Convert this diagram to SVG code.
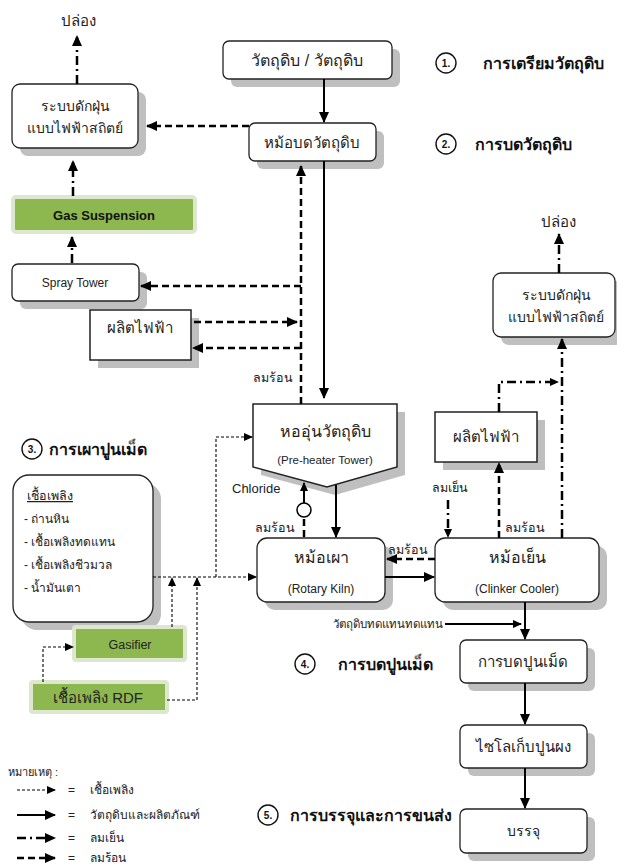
<svg xmlns="http://www.w3.org/2000/svg" width="617" height="866" viewBox="0 0 617 866">
<style>
text{font-family:"Liberation Sans","Noto Sans",sans-serif;fill:#222}
.th{font-size:14px;text-anchor:middle}
.en{font-size:12px;text-anchor:middle}
.hd{font-size:16px;font-weight:bold;fill:#111}
.num{font-size:10px;font-weight:bold;text-anchor:middle;fill:#111}
.lbl{font-size:12.5px}
.box{fill:#fff;stroke:#222;stroke-width:1.3}
.sq{fill:#fff;stroke:#222;stroke-width:1.5}
.sh{fill:#bfbfbf}
.grn{fill:#8db84f;stroke:#dde6cf;stroke-width:4}
.circ{fill:#fff;stroke:#111;stroke-width:1.4}
.solid{fill:none;stroke:#000;stroke-width:2}
.hot{fill:none;stroke:#000;stroke-width:2.5;stroke-dasharray:7 4}
.cold{fill:none;stroke:#000;stroke-width:2.5;stroke-dasharray:9 4 2 4}
.fuel{fill:none;stroke:#000;stroke-width:1.1;stroke-dasharray:3 2}
</style>
<defs>
<marker id="a" markerUnits="userSpaceOnUse" markerWidth="11" markerHeight="10" refX="10" refY="5" orient="auto"><path d="M0,0 L11,5 L0,10 z" fill="#000"/></marker>
<marker id="as" markerUnits="userSpaceOnUse" markerWidth="9" markerHeight="8" refX="8" refY="4" orient="auto"><path d="M0,0 L9,4 L0,8 z" fill="#000"/></marker>
</defs>

<!-- step labels -->
<g id="step1"><circle class="circ" cx="446" cy="63" r="10"/><text class="num" x="446" y="67">1.</text><text class="hd" x="483" y="69">การเตรียมวัตถุดิบ</text></g>
<g id="step2"><circle class="circ" cx="446" cy="144" r="10"/><text class="num" x="446" y="148">2.</text><text class="hd" x="475" y="150">การบดวัตถุดิบ</text></g>
<g id="step3"><circle class="circ" cx="32" cy="449" r="10"/><text class="num" x="32" y="453">3.</text><text class="hd" x="49" y="455">การเผาปูนเม็ด</text></g>
<g id="step4"><circle class="circ" cx="305" cy="664" r="10"/><text class="num" x="305" y="668">4.</text><text class="hd" x="338" y="670">การบดปูนเม็ด</text></g>
<g id="step5"><circle class="circ" cx="268" cy="815" r="10"/><text class="num" x="268" y="819">5.</text><text class="hd" x="290" y="821">การบรรจุและการขนส่ง</text></g>

<!-- nodes -->
<g id="raw"><rect class="sh" x="231" y="49" width="169" height="38" rx="6"/><rect class="box" x="223" y="41" width="169" height="38" rx="6"/><text class="th" x="307" y="66" style="font-size:16px">วัตถุดิบ / วัตถุดิบ</text></g>
<g id="mill"><rect class="sh" x="257" y="131" width="127" height="38" rx="6"/><rect class="box" x="249" y="123" width="127" height="38" rx="6"/><text class="th" x="312" y="148" style="font-size:15px">หม้อบดวัตถุดิบ</text></g>
<g id="esp1"><rect class="sh" x="20" y="92" width="126" height="64" rx="8"/><rect class="box" x="12" y="84" width="126" height="64" rx="8"/><text class="th" x="75" y="111">ระบบดักฝุ่น</text><text class="th" x="75" y="133">แบบไฟฟ้าสถิตย์</text></g>
<g id="gas"><rect class="grn" x="13" y="197" width="182" height="35" rx="3"/><text x="104" y="220" style="font-size:13px;font-weight:bold;text-anchor:middle;fill:#111">Gas Suspension</text></g>
<g id="spray"><rect class="sh" x="20" y="272" width="127" height="37" rx="6"/><rect class="box" x="12" y="264" width="127" height="37" rx="6"/><text class="en" x="75" y="287">Spray Tower</text></g>
<g id="power1"><rect class="sh" x="98" y="318" width="101" height="50"/><rect class="sq" x="90" y="310" width="101" height="50"/><text class="th" x="140" y="333" style="font-size:15px">ผลิตไฟฟ้า</text></g>
<g id="tower"><polygon class="sh" points="261,412 405,412 405,475 335,495 261,475"/><polygon class="sq" points="253,404 397,404 397,467 327,487 253,467"/><text class="th" x="325" y="437" style="font-size:16px">หออุ่นวัตถุดิบ</text><text class="en" x="325" y="464" style="font-size:11.5px">(Pre-heater Tower)</text></g>
<g id="esp2"><rect class="sh" x="501" y="281" width="122" height="64" rx="8"/><rect class="box" x="493" y="273" width="122" height="64" rx="8"/><text class="th" x="556" y="300">ระบบดักฝุ่น</text><text class="th" x="556" y="322">แบบไฟฟ้าสถิตย์</text></g>
<g id="power2"><rect class="sh" x="443" y="420" width="102" height="50"/><rect class="sq" x="435" y="412" width="102" height="50"/><text class="th" x="486" y="442" style="font-size:15px">ผลิตไฟฟ้า</text></g>
<g id="kiln"><rect class="sh" x="265" y="546" width="128" height="64" rx="10"/><rect class="box" x="257" y="538" width="128" height="64" rx="10"/><text class="th" x="321" y="563" style="font-size:16px">หม้อเผา</text><text class="en" x="321" y="593">(Rotary Kiln)</text></g>
<g id="cooler"><rect class="sh" x="443" y="546" width="164" height="64" rx="10"/><rect class="box" x="435" y="538" width="164" height="64" rx="10"/><text class="th" x="517" y="563" style="font-size:16px">หม้อเย็น</text><text class="en" x="517" y="593">(Clinker Cooler)</text></g>
<g id="fuel"><rect class="sh" x="21" y="483" width="140" height="147" rx="16"/><rect class="box" x="13" y="475" width="140" height="147" rx="16"/>
<text x="27" y="500" style="font-size:12.5px;text-decoration:underline">เชื้อเพลิง</text>
<text x="24" y="523" style="font-size:12px">- ถ่านหิน</text>
<text x="24" y="546" style="font-size:12px">- เชื้อเพลิงทดแทน</text>
<text x="24" y="569" style="font-size:12px">- เชื้อเพลิงชีวมวล</text>
<text x="24" y="592" style="font-size:12px">- น้ำมันเตา</text></g>
<g id="gasifier"><rect class="grn" x="74" y="627" width="111" height="33" rx="2"/><text class="en" x="130" y="649" style="font-size:12.5px">Gasifier</text></g>
<g id="rdf"><rect class="grn" x="31" y="682" width="136" height="30" rx="2"/><text class="th" x="98" y="703" style="font-size:15px">เชื้อเพลิง RDF</text></g>
<g id="grind"><rect class="sh" x="468" y="648" width="127" height="43" rx="6"/><rect class="box" x="460" y="640" width="127" height="43" rx="6"/><text class="th" x="523" y="667" style="font-size:15px">การบดปูนเม็ด</text></g>
<g id="silo"><rect class="sh" x="468" y="733" width="127" height="43" rx="6"/><rect class="box" x="460" y="725" width="127" height="43" rx="6"/><text class="th" x="523" y="752" style="font-size:15px">ไซโลเก็บปูนผง</text></g>
<g id="pack"><rect class="sh" x="468" y="817" width="127" height="44" rx="6"/><rect class="box" x="460" y="809" width="127" height="44" rx="6"/><text class="th" x="523" y="836">บรรจุ</text></g>

<!-- connectors -->
<g id="connectors">
<path class="solid" d="M324,79 V122" marker-end="url(#a)"/>
<path class="solid" d="M324,161 V398" marker-end="url(#a)"/>
<path class="hot" d="M301,404 V166" marker-end="url(#a)"/>
<path class="hot" d="M249,126 H147" marker-end="url(#a)"/>
<path class="cold" d="M77,84 V36" marker-end="url(#a)"/>
<path class="cold" d="M73,196 V161" marker-end="url(#a)"/>
<path class="cold" d="M72,263 V237" marker-end="url(#a)"/>
<path class="hot" d="M301,286 H141" marker-end="url(#a)"/>
<path class="hot" d="M194,322 H297" marker-end="url(#a)"/>
<path class="hot" d="M301,348 H193" marker-end="url(#a)"/>
<path class="solid" d="M336,485 V537" marker-end="url(#a)"/>
<path class="hot" d="M304,537 V518"/>
<circle cx="304" cy="510" r="7" fill="#fff" stroke="#000" stroke-width="1.5"/>
<path class="solid" d="M304,503 V483" marker-end="url(#as)"/>
<path class="hot" d="M435,559 H387" marker-end="url(#a)"/>
<path class="solid" d="M385,577 H434" marker-end="url(#a)"/>
<path class="cold" d="M448,500 V537" marker-end="url(#as)"/>
<path class="hot" d="M499,538 V463" marker-end="url(#a)"/>
<path class="cold" d="M499,412 V382 H558" marker-end="url(#as)"/>
<path class="cold" d="M562,538 V339" marker-end="url(#a)"/>
<path class="cold" d="M559,273 V234" marker-end="url(#a)"/>
<path class="solid" d="M525,602 V639" marker-end="url(#a)"/>
<path class="solid" d="M445,624 H521" marker-end="url(#as)"/>
<path class="solid" d="M525,683 V724" marker-end="url(#a)"/>
<path class="solid" d="M525,768 V808" marker-end="url(#a)"/>
<path class="fuel" d="M153,577 H256" marker-end="url(#as)"/>
<path class="fuel" d="M216,577 V437 H252" marker-end="url(#as)"/>
<path class="fuel" d="M172,627 V578" marker-end="url(#as)"/>
<path class="fuel" d="M167,700 H197 V578" marker-end="url(#as)"/>
<path class="fuel" d="M43,682 V647 H73" marker-end="url(#as)"/>
</g>

<!-- free labels -->
<g id="labels">
<text class="th" x="78" y="26" style="font-size:15px">ปล่อง</text>
<text class="th" x="558" y="227" style="font-size:15px">ปล่อง</text>
<text class="lbl" x="253" y="382">ลมร้อน</text>
<text x="232" y="493" style="font-size:13px">Chloride</text>
<text class="lbl" x="255" y="532">ลมร้อน</text>
<text class="lbl" x="388" y="554">ลมร้อน</text>
<text class="lbl" x="432" y="492">ลมเย็น</text>
<text class="lbl" x="505" y="532">ลมร้อน</text>
<text x="333" y="628" style="font-size:11.5px">วัตถุดิบทดแทนทดแทน</text>
</g>

<!-- legend -->
<g id="legend">
<text x="8" y="776" style="font-size:11px">หมายเหตุ :</text>
<path class="fuel" d="M17,790 H55" marker-end="url(#as)"/>
<path class="solid" d="M17,815 H55" marker-end="url(#a)"/>
<path class="cold" d="M17,838 H55" marker-end="url(#a)"/>
<path class="hot" d="M17,858 H55" marker-end="url(#a)"/>
<text x="68" y="794" style="font-size:12px">=</text>
<text x="68" y="819" style="font-size:12px">=</text>
<text x="68" y="842" style="font-size:12px">=</text>
<text x="68" y="862" style="font-size:12px">=</text>
<text x="90" y="794" style="font-size:12px">เชื้อเพลิง</text>
<text x="90" y="819" style="font-size:12px">วัตถุดิบและผลิตภัณฑ์</text>
<text x="90" y="842" style="font-size:12px">ลมเย็น</text>
<text x="90" y="862" style="font-size:12px">ลมร้อน</text>
</g>
</svg>
